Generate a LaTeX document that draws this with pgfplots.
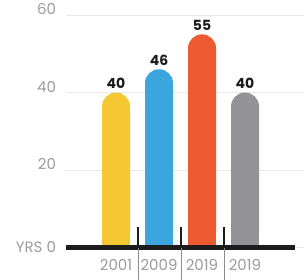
\documentclass[border=0pt]{standalone}
\usepackage{fontspec}
\setmainfont{Poppins}
\usepackage{pgfplots}
\pgfplotsset{compat=1.18}
\definecolor{cyel}{HTML}{F5C833}
\definecolor{cblue}{HTML}{3BA6DE}
\definecolor{cora}{HTML}{EE5A32}
\definecolor{cgry}{HTML}{939296}
\definecolor{ctxt}{HTML}{9B9B9B}
\definecolor{cblk}{HTML}{1C1C1C}
\begin{document}
\begin{tikzpicture}[x=1pt,y=1pt]
\begin{axis}[
  at={(66pt,31.5pt)}, anchor=south west,
  scale only axis, width=238pt, height=232.5pt,
  xmin=-1.163, xmax=4.372, ymin=0, ymax=60,
  axis line style={draw=none}, major tick length=0pt,
  ytick={0,20,40,60}, yticklabels={\raisebox{-5pt}{YRS 0},20,40,60},
  ymajorgrids, grid style={black!9, line width=0.8pt},
  xtick={0,1,2,3}, xticklabels={2001,2009,2019,2019},
  tick label style={font=\fontsize{15}{15}\selectfont, text=ctxt},
  yticklabel style={anchor=base east, xshift=-6.5pt, yshift=0.5pt},
  xticklabel style={anchor=base, yshift=-23pt},
  /pgf/number format/assume math mode=true,
  bar width=28pt,
  clip=false,
  nodes near coords style={font=\bfseries\fontsize{14}{14}\selectfont, text=cblk},
]
\addplot[ybar, bar shift=0pt, fill=cyel, draw=none, rounded corners=13.9pt, nodes near coords] coordinates {(0,40)};
\addplot[ybar, bar shift=0pt, fill=cyel, draw=none] coordinates {(0,36)};
\addplot[ybar, bar shift=0pt, fill=cblue, draw=none, rounded corners=13.9pt, nodes near coords] coordinates {(1,46)};
\addplot[ybar, bar shift=0pt, fill=cblue, draw=none] coordinates {(1,42)};
\addplot[ybar, bar shift=0pt, fill=cora, draw=none, rounded corners=13.9pt, nodes near coords] coordinates {(2,55)};
\addplot[ybar, bar shift=0pt, fill=cora, draw=none] coordinates {(2,51)};
\addplot[ybar, bar shift=0pt, fill=cgry, draw=none, rounded corners=13.9pt, nodes near coords] coordinates {(3,40)};
\addplot[ybar, bar shift=0pt, fill=cgry, draw=none] coordinates {(3,36)};
\draw[cblk, line width=4.5pt] (axis cs:-1.163,0) -- (axis cs:4.163,0);
\pgfplotsinvokeforeach{0.51,1.51,2.51}{
  \draw[cblk, line width=1.5pt] (axis cs:#1,0) -- (axis cs:#1,5.2);
  \draw[black!45, line width=0.7pt] (axis cs:#1,0) -- (axis cs:#1,-8.3);
}
\end{axis}
\pgfresetboundingbox
\useasboundingbox (0,0) rectangle (304,279);
\end{tikzpicture}
\end{document}
